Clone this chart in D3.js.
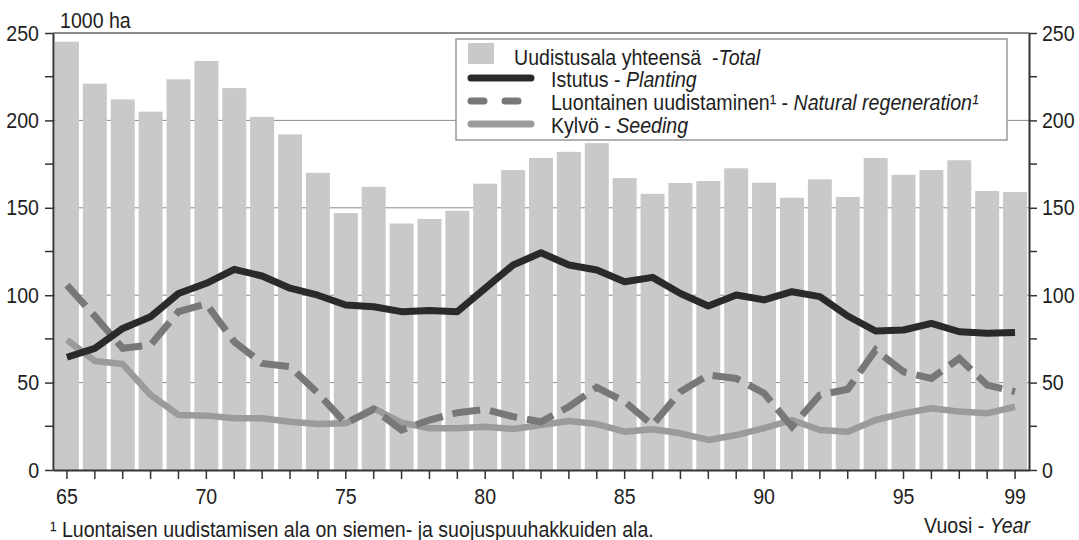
<!DOCTYPE html>
<html>
<head>
<meta charset="utf-8">
<script src="https://cdn.jsdelivr.net/npm/d3@7"></script>
<style>
  body { margin: 0; background: #fff; }
  text { font-family: "Liberation Sans", Arial, sans-serif; fill: #1e1e1e; white-space: pre; }
</style>
</head>
<body>
<div id="chart"></div>
<script>
// data (1000 ha)
var years = ["65","66","67","68","69","70","71","72","73","74","75","76","77","78","79","80","81","82",
             "83","84","85","86","87","88","89","90","91","92","93","94","95","96","97","98","99"];
var total = [245,221,212,205,223.5,234,218.5,202,192,170,147,162,141,143.6,148.3,163.8,171.6,178.5,
             182,187,167,158,164.2,165.3,172.6,164.4,155.8,166.3,156.2,178.5,168.9,171.6,177.2,159.6,159];
var planting = [64.5,69.6,81,87.7,101,106.8,114.8,111,104,100,94.4,93.4,90.6,91.2,90.6,104,117.3,124.3,
                117.3,114.4,107.7,110.2,101,93.8,100.1,97.3,102,99.2,88.1,79.5,80.1,83.9,79.1,78.2,78.6];
var natural = [105.8,88,69.6,71.5,90.6,95,73.4,61,59.1,43.9,26.7,34.7,22.9,28.6,32.8,34.7,30.5,27.6,
               36.2,47.3,39.1,25.7,44.8,54.3,52.4,43.9,24.8,42.9,46.2,68.6,56.2,52.4,63.9,48.6,44.8];
var seeding = [74.4,62.4,60.6,42.9,31.5,31.1,29.6,29.6,27.6,26.3,26.7,35.3,27.1,23.9,23.9,24.8,23.5,25.7,
               28,26.3,21.9,23.3,21,17.2,20,23.9,28.6,22.9,21.9,28.6,32.4,35.3,33.4,32.4,36.2];
var xLabels = ["65","70","75","80","85","90","95","99"];
var yTicks = [0,50,100,150,200,250];
var yMinor = [25,75,125,175,225];

var margin = {top: 33, right: 50, bottom: 70, left: 53},
    width = 1079 - margin.left - margin.right,
    height = 540 - margin.top - margin.bottom;

// condensed look: Liberation Sans squeezed horizontally
var squeeze = 0.89;
function narrow(sel) {
  sel.each(function() {
    var t = d3.select(this);
    var xv = +t.attr("x") || 0;
    t.attr("x", xv / squeeze).attr("transform", "scale(" + squeeze + ",1)");
  });
}

var svg = d3.select("#chart").append("svg")
    .attr("width", 1079)
    .attr("height", 540)
  .append("g")
    .attr("transform", "translate(" + margin.left + "," + margin.top + ")");

var x = d3.scaleBand().domain(years).range([0, width]).paddingInner(0.14).paddingOuter(0.07);
var y = d3.scaleLinear().domain([0, 250]).range([height, 0]);
var cx = function(d, i) { return x(years[i]) + x.bandwidth() / 2; };

// gridlines behind the bars
svg.append("g").selectAll("line")
    .data([50,100,150,200])
    .enter().append("line")
    .attr("x1", 0).attr("x2", width)
    .attr("y1", function(d) { return y(d); }).attr("y2", function(d) { return y(d); })
    .attr("stroke", "#8a8a8a").attr("stroke-width", 1);

// top frame
svg.append("line").attr("x1", 0).attr("x2", width).attr("y1", 0).attr("y2", 0)
    .attr("stroke", "#666").attr("stroke-width", 1.5);

// bars
svg.append("g").selectAll("rect")
    .data(total)
    .enter().append("rect")
    .attr("x", function(d, i) { return x(years[i]); })
    .attr("width", x.bandwidth())
    .attr("y", function(d) { return y(d); })
    .attr("height", function(d) { return height - y(d); })
    .attr("fill", "#c8c9cb");

// lines
var line = d3.line().x(cx).y(function(d) { return y(d); });

svg.append("path").datum(seeding)
    .attr("d", line).attr("fill", "none")
    .attr("stroke", "#9a9b9d").attr("stroke-width", 6.5).attr("stroke-linejoin", "round");
svg.append("path").datum(natural)
    .attr("d", line).attr("fill", "none")
    .attr("stroke", "#77787a").attr("stroke-width", 7)
    .attr("stroke-dasharray", "28,10");
svg.append("path").datum(planting)
    .attr("d", line).attr("fill", "none")
    .attr("stroke", "#2a2a2a").attr("stroke-width", 7).attr("stroke-linejoin", "round");

// axes
var fontSize = "22px";
function styleAxis(g) {
  g.attr("font-family", null).attr("font-size", null);
  g.select(".domain").attr("stroke", "#333").attr("stroke-width", 2);
  g.selectAll(".tick line").attr("stroke", "#333").attr("stroke-width", 1.5);
  g.selectAll("text").style("font-size", fontSize).attr("fill", "#1e1e1e");
}
var xAxis = svg.append("g")
    .attr("transform", "translate(0," + height + ")")
    .call(d3.axisBottom(x).tickSize(9).tickPadding(5).tickSizeOuter(0)
        .tickFormat(function(d) { return xLabels.indexOf(d) >= 0 ? d : ""; }));
styleAxis(xAxis);
xAxis.selectAll("text").attr("dy", "0.92em");
narrow(xAxis.selectAll("text"));

var yLeft = svg.append("g")
    .call(d3.axisLeft(y).tickValues(yTicks).tickSize(8).tickPadding(6).tickSizeOuter(0));
styleAxis(yLeft);
narrow(yLeft.selectAll("text"));
var yRight = svg.append("g")
    .attr("transform", "translate(" + width + ",0)")
    .call(d3.axisRight(y).tickValues(yTicks).tickSize(8).tickPadding(5).tickSizeOuter(0));
styleAxis(yRight);
narrow(yRight.selectAll("text"));

// minor y ticks
[0, width].forEach(function(xp) {
  svg.append("g").selectAll("line")
    .data(yMinor)
    .enter().append("line")
    .attr("x1", xp).attr("x2", xp === 0 ? -8 : xp + 8)
    .attr("y1", function(d) { return y(d); }).attr("y2", function(d) { return y(d); })
    .attr("stroke", "#333").attr("stroke-width", 1.5);
});

// unit label
svg.append("text").attr("x", 7).attr("y", -5).style("font-size", fontSize).text("1000 ha")
    .call(narrow);

// legend
var legend = svg.append("g").attr("transform", "translate(" + (456 - margin.left) + "," + (39 - margin.top) + ")");
legend.append("rect").attr("width", 551).attr("height", 101)
    .attr("fill", "#fff").attr("stroke", "#999").attr("stroke-width", 1.5);
legend.append("rect").attr("x", 12).attr("y", 4).attr("width", 26).attr("height", 21).attr("fill", "#c8c9cb");

var items = [
  {fi: "Istutus - ", en: "Planting", color: "#2a2a2a", dash: null},
  {fi: "Luontainen uudistaminen\u00b9 - ", en: "Natural regeneration\u00b9", color: "#77787a", dash: "13,21"},
  {fi: "Kylv\u00f6 - ", en: "Seeding", color: "#9a9b9d", dash: null}
];
var t0 = legend.append("text").attr("x", 58).attr("y", 26).style("font-size", fontSize);
t0.append("tspan").text("Uudistusala yhteens\u00e4  -");
t0.append("tspan").style("font-style", "italic").text("Total");
narrow(t0);

items.forEach(function(it, i) {
  var yy = 39 + i * 23;
  legend.append("line").attr("x1", 15).attr("x2", 75).attr("y1", yy).attr("y2", yy)
    .attr("stroke", it.color).attr("stroke-width", 7).attr("stroke-linecap", "round")
    .attr("stroke-dasharray", it.dash);
  var t = legend.append("text").attr("x", 95).attr("y", yy + 9).style("font-size", fontSize);
  t.append("tspan").text(it.fi);
  t.append("tspan").style("font-style", "italic").text(it.en);
  narrow(t);
});

// year label and footnote
var yl = svg.append("text").attr("x", width + 1).attr("y", height + 63)
    .attr("text-anchor", "end").style("font-size", fontSize);
yl.append("tspan").text("Vuosi - ");
yl.append("tspan").style("font-style", "italic").text("Year");
narrow(yl);

svg.append("text").attr("x", -3).attr("y", height + 67).style("font-size", fontSize)
    .text("\u00b9 Luontaisen uudistamisen ala on siemen- ja suojuspuuhakkuiden ala.")
    .call(narrow);
</script>
</body>
</html>
